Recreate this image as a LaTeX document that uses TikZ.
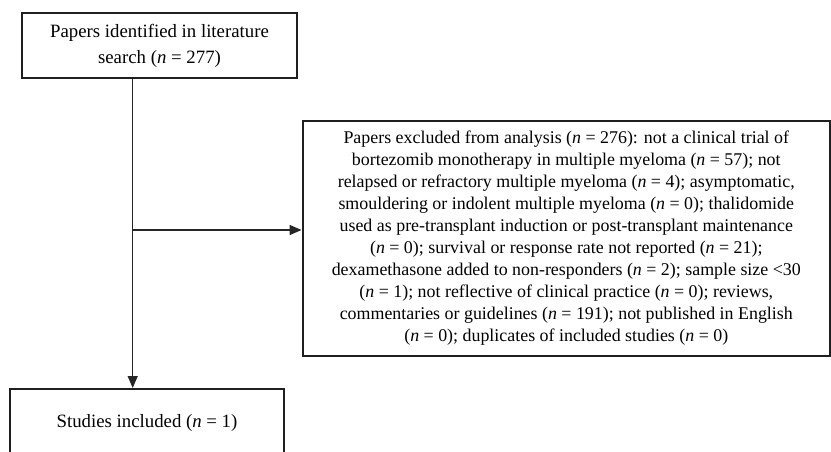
\documentclass[tikz,border=0pt]{standalone}
\usepackage{fontspec}
\setmainfont{Liberation Serif}
\usetikzlibrary{arrows.meta}
\begin{document}
\begin{tikzpicture}[x=1pt,y=-1pt,
  boxstyle/.style={draw=black!88,line width=2pt,rectangle,align=center,inner sep=0pt},
  bigtext/.style={font=\fontsize{18.8}{26}\selectfont},
  smalltext/.style={font=\fontsize{17.9}{22}\selectfont},
  link/.style={draw=black!85,line width=1.3pt},
  tip/.style={-{Triangle[length=12pt,width=10pt]}}]
\useasboundingbox (0,0) rectangle (831,451);
\clip (0,0) rectangle (831,451);
\node[boxstyle,bigtext,minimum width=275pt,minimum height=65pt] (top) at (159.5,45.8)
  {Papers identified in literature\\search (\textit{n} = 277)};
\node[boxstyle,smalltext,minimum width=527.5pt,minimum height=235pt] (excl) at (566.3,238.5)
  {Papers excluded from analysis (\textit{n} = 276): not a clinical trial of\\
   bortezomib monotherapy in multiple myeloma (\textit{n} = 57); not\\
   relapsed or refractory multiple myeloma (\textit{n} = 4); asymptomatic,\\
   smouldering or indolent multiple myeloma (\textit{n} = 0); thalidomide\\
   used as pre-transplant induction or post-transplant maintenance\\
   (\textit{n} = 0); survival or response rate not reported (\textit{n} = 21);\\
   dexamethasone added to non-responders (\textit{n} = 2); sample size <30\\
   (\textit{n} = 1); not reflective of clinical practice (\textit{n} = 0); reviews,\\
   commentaries or guidelines (\textit{n} = 191); not published in English\\
   (\textit{n} = 0); duplicates of included studies (\textit{n} = 0)};
\node[boxstyle,bigtext,minimum width=274pt,minimum height=68pt] (incl) at (147,423)
  {Studies included (\textit{n} = 1)};
\coordinate (j) at (132.7,230);
\draw[link,tip] (top.south -| j) -- (incl.north -| j);
\draw[link,tip] (j) -- (excl.west |- j);
\end{tikzpicture}
\end{document}
